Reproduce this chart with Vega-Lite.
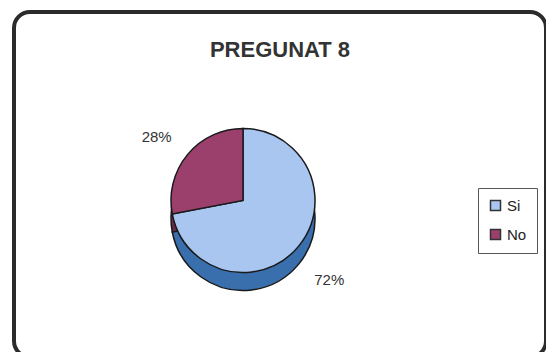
{
  "$schema": "https://vega.github.io/schema/vega-lite/v6.json",
  "width": 532,
  "height": 345,
  "padding": {"left": 14, "top": 12, "right": 0, "bottom": 0},
  "autosize": {"type": "none"},
  "background": "white",
  "view": {"stroke": "#2b2b2b", "strokeWidth": 4, "cornerRadius": 16, "fill": "white"},
  "title": {
    "text": "PREGUNAT 8",
    "font": "Liberation Sans",
    "fontSize": 22,
    "fontWeight": "bold",
    "color": "#333333",
    "anchor": "middle",
    "offset": -50
  },
  "config": {
    "font": "Liberation Sans"
  },
  "data": {
    "values": [
      {"respuesta": "Si", "valor": 0.72},
      {"respuesta": "No", "valor": 0.28}
    ]
  },
  "encoding": {
    "theta": {"field": "valor", "type": "quantitative", "stack": true},
    "order": {"field": "respuesta", "sort": "descending"}
  },
  "layer": [
    {
      "mark": {"type": "arc", "outerRadius": 72, "xOffset": -37, "yOffset": 34, "stroke": "#1a1a1a", "strokeWidth": 1.5},
      "encoding": {
        "color": {
          "field": "respuesta",
          "type": "nominal",
          "scale": {"domain": ["Si", "No"], "range": ["#3a6fae", "#6e2a4c"]},
          "legend": null
        }
      }
    },
    {
      "mark": {"type": "arc", "outerRadius": 72, "xOffset": -37, "yOffset": 16, "stroke": "#1a1a1a", "strokeWidth": 1.5},
      "encoding": {
        "color": {
          "field": "respuesta",
          "type": "nominal",
          "scale": {"domain": ["Si", "No"], "range": ["#a9c6f1", "#9b3f6c"]},
          "legend": {
            "title": null,
            "orient": "none",
            "legendX": 464,
            "legendY": 176,
            "symbolType": "square",
            "symbolSize": 100,
            "symbolStrokeColor": "#333333",
            "symbolStrokeWidth": 1.5,
            "labelFontSize": 15,
            "labelColor": "#222222",
            "labelFont": "Liberation Sans",
            "rowPadding": 12,
            "padding": 10,
            "strokeColor": "#555555",
            "fillColor": "white"
          }
        }
      }
    },
    {
      "mark": {"type": "text", "radius": 112, "xOffset": -37, "yOffset": 24, "fontSize": 15, "color": "#333333", "font": "Liberation Sans"},
      "encoding": {
        "text": {"field": "valor", "type": "quantitative", "format": ".0%"}
      }
    }
  ],
  "resolve": {"scale": {"color": "independent"}}
}
